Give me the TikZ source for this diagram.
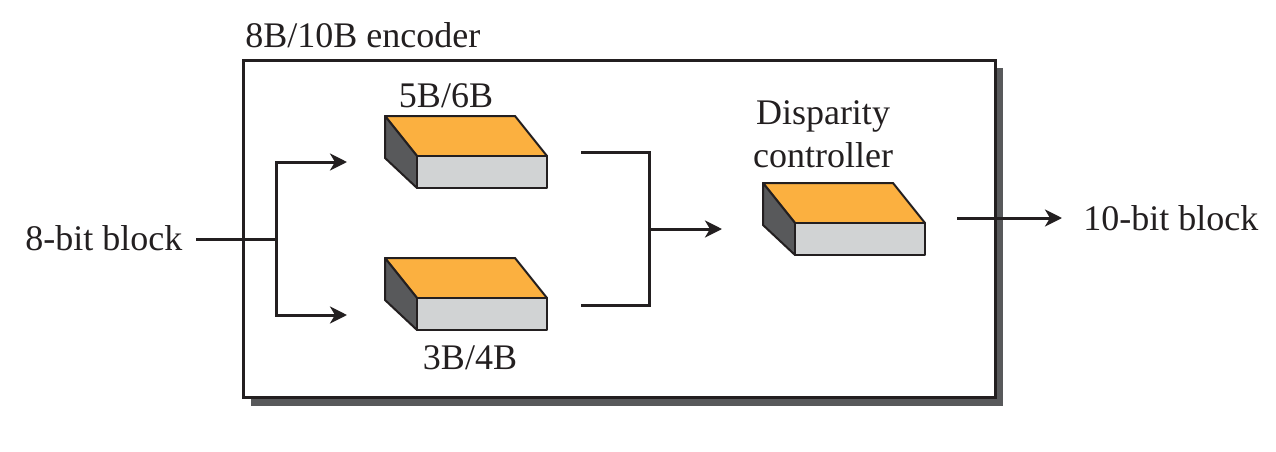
\documentclass[tikz,border=0pt]{standalone}
\usepackage{fontspec}
\setmainfont{Liberation Serif}
\usetikzlibrary{arrows.meta}
\definecolor{slabtop}{HTML}{FBB040}
\definecolor{slabfront}{HTML}{D1D3D4}
\definecolor{slabside}{HTML}{58595B}
\definecolor{ink}{HTML}{231F20}
\tikzset{
  lbl/.style={inner sep=0pt, text=ink, font=\fontsize{18}{22}\selectfont},
  conn/.style={draw=ink, line width=1.5pt},
  arr/.style={conn, -{Stealth[length=8.5pt,width=8.5pt,inset=2.5pt]}},
  slab/.pic={
    \path[fill=slabtop, draw=ink, line width=1pt, line join=round] (0,0) -- (130,0) -- (162,40) -- (32,40) -- cycle;
    \path[fill=slabside, draw=ink, line width=1pt, line join=round] (0,0) -- (32,40) -- (32,72) -- (0,42) -- cycle;
    \path[fill=slabfront, draw=ink, line width=1pt, line join=round] (32,40) rectangle (162,72);
  }
}
\begin{document}
\begin{tikzpicture}[x=0.5pt,y=-0.5pt]
\useasboundingbox (0,0) rectangle (1276,451);
% encoder box with shadow
\fill[slabside] (251,68) rectangle (1003,406);
\draw[ink, fill=white, line width=1.5pt] (243,60) rectangle (995,397);
\node[lbl, anchor=base west] (title) at (245,47) {8B/10B encoder};
% slabs
\pic (s56) at (385,116) {slab};
\pic (s34) at (385,258) {slab};
\pic (sdc) at (763,183) {slab};
\node[lbl, anchor=base] (l56) at (446,107) {5B/6B};
\node[lbl, anchor=base] (l34) at (470,369) {3B/4B};
\node[lbl, anchor=base, align=center] (ldc) at (823,167) {Disparity\\[-0.5pt]controller};
% texts outside
\node[lbl, anchor=base west] (in8) at (25,250) {8-bit block};
\node[lbl, anchor=base west] (out10) at (1083,230) {10-bit block};
% connector coordinates
\coordinate (a0) at (196,239);
\coordinate (a1) at (276,239);
\coordinate (a2) at (347,162);
\coordinate (a3) at (347,315);
\coordinate (b0) at (581,152);
\coordinate (b1) at (649,152);
\coordinate (b2) at (649,305);
\coordinate (b3) at (581,305);
\coordinate (b4) at (649,229);
\coordinate (b5) at (722,229);
\coordinate (c0) at (957,218);
\coordinate (c1) at (1062,218);
% connectors
\draw[conn] (a0) -- (a1);
\draw[arr] (a1) |- (a2);
\draw[arr] (a1) |- (a3);
\draw[conn] (b0) -- (b1) -- (b2) -- (b3);
\draw[arr] (b4) -- (b5);
\draw[arr] (c0) -- (c1);
\end{tikzpicture}
\end{document}
